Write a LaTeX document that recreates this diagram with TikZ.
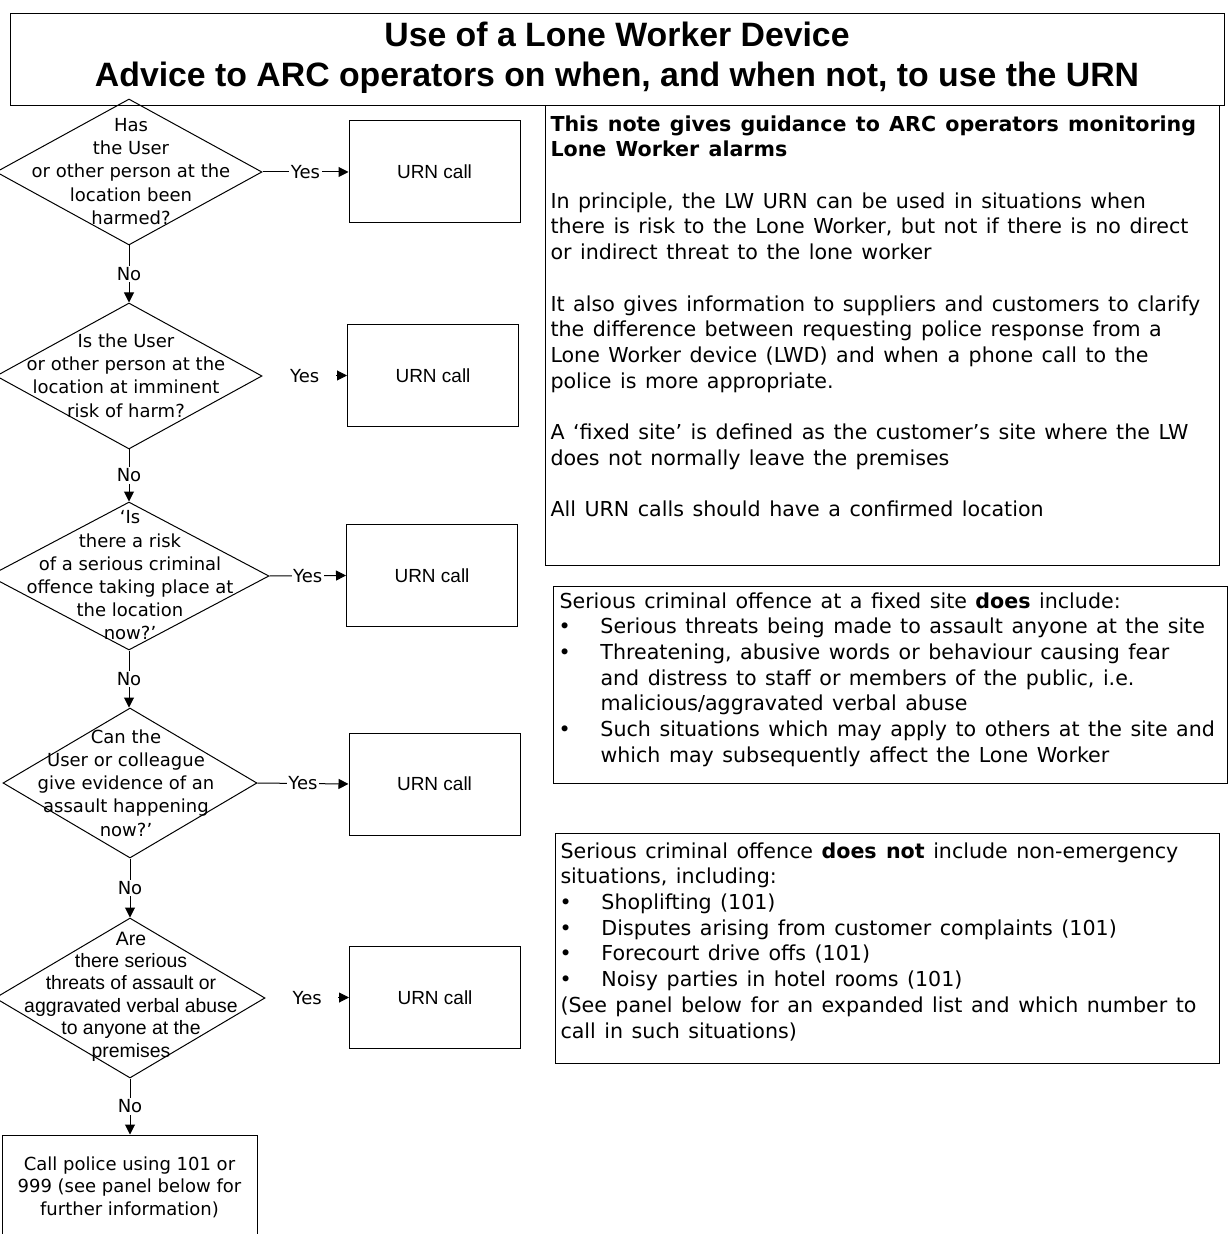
\documentclass[tikz,border=0pt]{standalone}
\usepackage{fontspec}
\setmainfont{DejaVu Sans}
\newfontfamily\arialfont{Liberation Sans}
\newfontfamily\panelfont{DejaVu Sans}[WordSpace=1.3]
\usepackage{tikz}
\usetikzlibrary{shapes.geometric}
\usetikzlibrary{arrows.meta}
\newcommand{\bitem}{\makebox[20.5pt][l]{\hspace{-0.5pt}\textbullet}}
\newcommand{\bcont}{\hspace*{20.5pt}}

\begin{document}
\begin{tikzpicture}[x=0.5pt,y=-0.5pt,line width=0.5pt,
		decision/.style={diamond,draw,inner sep=0pt},
		dtext/.style={align=center,inner sep=0pt,font=\fontsize{9}{11.6}\selectfont},
		urnbox/.style={draw,minimum width=85.5pt,minimum height=51pt,font=\arialfont\fontsize{9.5}{11}\selectfont},
		lbl/.style={fill=white,inner sep=0.8pt,font=\fontsize{9}{11}\selectfont},
		arr/.style={-{Triangle[length=5pt,width=5pt]}},
		paneltext/.style={align=left,anchor=north west,inner sep=0pt,font=\panelfont\fontsize{10.3}{12.85}\selectfont}]
				\def\px{0.5pt};
				\def\gap{12.85pt};
				\path[use as bounding box,clip] (0,0) rectangle (1229,1234);
				\draw (10,14) rectangle (1224,106);
				\node[align=center,font=\arialfont\bfseries\fontsize{16.9}{20}\selectfont] (title) at (617,58)
					{Use of a Lone Worker Device\\Advice to ARC operators on when, and when not, to use the URN};
				\node[decision,minimum width=266*\px,minimum height=146*\px] (d1) at (129,172) {};
				\node[decision,minimum width=266*\px,minimum height=146*\px] (d2) at (129,376) {};
				\node[decision,minimum width=280*\px,minimum height=148*\px] (d3) at (129,576) {};
				\node[decision,minimum width=254*\px,minimum height=150*\px] (d4) at (130,783) {};
				\node[decision,minimum width=270*\px,minimum height=160*\px] (d5) at (130,998) {};
				\node[dtext] (d1t) at (131,171.5) {Has\\the User\\or other person at the\\location been\\harmed?};
				\node[dtext] (d2t) at (126,375.5) {Is the User\\or other person at the\\location at imminent\\risk of harm?};
				\node[dtext] (d3t) at (130,575.5) {‘Is\\there a risk\\of a serious criminal\\offence taking place at\\the location\\now?’};
				\node[dtext] (d4t) at (126,783) {Can the\\User or colleague\\give evidence of an\\assault happening\\now?’};
				\node[dtext,font=\arialfont\fontsize{9.7}{11.2}\selectfont] (d5t) at (131,996.5)
					{Are\\there serious\\threats of assault or\\aggravated verbal abuse\\to anyone at the\\premises};
				\node[urnbox] (u1) at (434.5,172) {URN call};
				\node[urnbox] (u2) at (433,375.5) {URN call};
				\node[urnbox] (u3) at (432,575.5) {URN call};
				\node[urnbox] (u4) at (434.5,784) {URN call};
				\node[urnbox] (u5) at (435,997.5) {URN call};
				\node[draw,minimum width=255*\px,minimum height=104*\px,align=center,font=\fontsize{9}{11.25}\selectfont] (police) at (129.5,1187)
					{Call police using 101 or\\999 (see panel below for\\further information)};
				\draw[arr] (d1.south) -- node[lbl] {No} (d1.south |- d2.north);
				\draw[arr] (d2.south) -- node[lbl] {No} (d2.south |- d3.north);
				\draw[arr] (d3.south) -- node[lbl] {No} (d3.south |- d4.north);
				\draw[arr] (d4.south) -- node[lbl] {No} (d4.south |- d5.north);
				\draw[arr] (d5.south) -- node[lbl] {No} (d5.south |- police.north);
				\draw[arr] (d1.east) -- node[lbl] {Yes} (u1.west);
				\path (d2.east) -- node[lbl] (yes2) {Yes} (u2.west);
				\draw[arr] ([xshift=-5.5pt]u2.west) -- (u2.west);
				\draw[arr] (d3.east) -- node[lbl] {Yes} (u3.west);
				\draw[arr] (d4.east) -- node[lbl] {Yes} (u4.west);
				\path (d5.east) -- node[lbl] (yes5) {Yes} (u5.west);
				\draw[arr] ([xshift=-5.5pt]u5.west) -- (u5.west);
				\draw (545,106) rectangle (1219,565);
				\node[paneltext] (note) at (550,115)
					{\textbf{This note gives guidance to ARC operators monitoring}\\
					\textbf{Lone Worker alarms}\\[\gap]
					In principle, the LW URN can be used in situations when\\
					there is risk to the Lone Worker, but not if there is no direct\\
					or indirect threat to the lone worker\\[\gap]
					It also gives information to suppliers and customers to clarify\\
					the difference between requesting police response from a\\
					Lone Worker device (LWD) and when a phone call to the\\
					police is more appropriate.\\[\gap]
					A ‘fixed site’ is defined as the customer’s site where the LW\\
					does not normally leave the premises\\[\gap]
					All URN calls should have a confirmed location};
				\draw (553,586) rectangle (1227,783);
				\node[paneltext] (incl) at (559,592)
					{Serious criminal offence at a fixed site \textbf{does} include:\\
					\bitem Serious threats being made to assault anyone at the site\\
					\bitem Threatening, abusive words or behaviour causing fear\\
					\bcont and distress to staff or members of the public, i.e.\\
					\bcont malicious/aggravated verbal abuse\\
					\bitem Such situations which may apply to others at the site and\\
					\bcont which may subsequently affect the Lone Worker};
				\draw (555,833) rectangle (1219,1063);
				\node[paneltext] (excl) at (560,842)
					{Serious criminal offence \textbf{does not} include non-emergency\\
					situations, including:\\
					\bitem Shoplifting (101)\\
					\bitem Disputes arising from customer complaints (101)\\
					\bitem Forecourt drive offs (101)\\
					\bitem Noisy parties in hotel rooms (101)\\
					(See panel below for an expanded list and which number to\\
					call in such situations)};
			\end{tikzpicture}
\end{document}
